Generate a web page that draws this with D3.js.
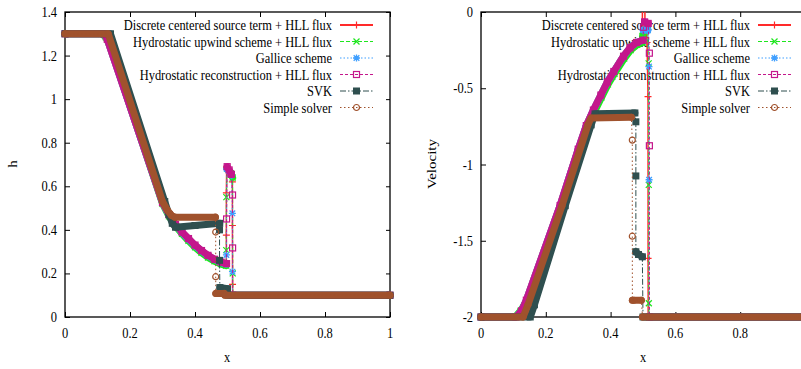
<!DOCTYPE html>
<html><head><meta charset="utf-8">
<script src="https://cdn.jsdelivr.net/npm/d3@7"></script>
<style>
body{margin:0;background:#fff}
svg{display:block}
text{font-family:"Liberation Serif","Times New Roman",serif;font-size:15px;fill:#000}
</style>
</head><body>
<svg id="c" width="801" height="369"></svg>
<script>
// ---------- data ----------
const seriesNames = [
  "Discrete centered source term + HLL flux",
  "Hydrostatic upwind scheme + HLL flux",
  "Gallice scheme",
  "Hydrostatic reconstruction + HLL flux",
  "SVK",
  "Simple solver"
];
const xTicks = [0, 0.2, 0.4, 0.6, 0.8, 1];
const hTicks = [0, 0.2, 0.4, 0.6, 0.8, 1, 1.2, 1.4];
const vTicks = [0, -0.5, -1, -1.5, -2];

// left panel : h(x)
const hRedX = [0, 0.12, 0.13, 0.30, 0.32, 0.34, 0.36, 0.38, 0.40, 0.42, 0.44, 0.46, 0.48, 0.4965, 0.4965, 0.4965, 0.4975, 0.505, 0.5125, 0.5150, 0.5152, 0.5155, 0.516, 1];
const hRedY = [1.3, 1.3, 1.275, 0.525, 0.468, 0.424, 0.388, 0.357, 0.328, 0.303, 0.281, 0.264, 0.25, 0.243, 0.376, 0.57, 0.685, 0.672, 0.652, 0.62, 0.42, 0.15, 0.1, 0.1];
const hGreenX = [0, 0.112, 0.125, 0.14, 0.30, 0.32, 0.34, 0.36, 0.38, 0.40, 0.42, 0.44, 0.46, 0.48, 0.496, 0.4962, 0.4965, 0.499, 0.51, 0.5158, 0.516, 0.5165, 1];
const hGreenY = [1.3, 1.3, 1.285, 1.24, 0.52, 0.462, 0.418, 0.382, 0.35, 0.32, 0.295, 0.273, 0.256, 0.243, 0.236, 0.307, 0.55, 0.68, 0.66, 0.64, 0.2, 0.1, 0.1];
const hBlueX = [0, 0.12, 0.13, 0.30, 0.32, 0.34, 0.36, 0.38, 0.40, 0.42, 0.44, 0.46, 0.48, 0.4965, 0.4966, 0.498, 0.505, 0.5125, 0.515, 0.5153, 0.5158, 1];
const hBlueY = [1.3, 1.3, 1.275, 0.525, 0.468, 0.424, 0.388, 0.357, 0.328, 0.303, 0.281, 0.264, 0.25, 0.243, 0.285, 0.68, 0.67, 0.652, 0.476, 0.208, 0.1, 0.1];
const hMagX = [0, 0.12, 0.13, 0.30, 0.32, 0.34, 0.36, 0.38, 0.40, 0.42, 0.44, 0.46, 0.48, 0.497, 0.4972, 0.499, 0.505, 0.512, 0.5155, 0.5157, 0.516, 1];
const hMagY = [1.3, 1.3, 1.275, 0.525, 0.47, 0.425, 0.39, 0.36, 0.33, 0.305, 0.283, 0.265, 0.252, 0.245, 0.45, 0.69, 0.675, 0.655, 0.56, 0.317, 0.1, 0.1];
const hSvkX = [0, 0.14, 0.307, 0.32, 0.33, 0.34, 0.40, 0.476, 0.4755, 0.4755, 0.4765, 0.50, 0.503, 1];
const hSvkY = [1.3, 1.3, 0.53, 0.47, 0.43, 0.412, 0.42, 0.43, 0.40, 0.26, 0.135, 0.13, 0.1, 0.1];
const hSimpleX = [0, 0.133, 0.30, 0.315, 0.328, 0.338, 0.463, 0.4637, 0.4637, 0.464, 0.49, 0.492, 1];
const hSimpleY = [1.3, 1.3, 0.53, 0.49, 0.466, 0.458, 0.458, 0.39, 0.185, 0.108, 0.108, 0.1, 0.1];

// right panel : velocity(x)
const vRedX = [0, 0.108, 0.125, 0.14, 0.244, 0.30, 0.325, 0.347, 0.37, 0.39, 0.41, 0.44, 0.46, 0.48, 0.498, 0.4985, 0.5055, 0.506, 0.5095, 0.5125, 0.5155, 0.5157, 0.516, 1];
const vRedY = [-2, -2, -1.96, -1.89, -1.27, -0.9, -0.745, -0.643, -0.545, -0.46, -0.39, -0.29, -0.235, -0.2, -0.19, 0.4, 0.4, -0.08, -0.1, -0.2, -0.555, -1.615, -2, -2];
const vGreenX = [0, 0.105, 0.122, 0.14, 0.246, 0.302, 0.328, 0.35, 0.372, 0.392, 0.412, 0.442, 0.462, 0.482, 0.498, 0.4985, 0.503, 0.514, 0.5175, 0.5178, 0.518, 0.519, 1];
const vGreenY = [-2, -2, -1.96, -1.9, -1.27, -0.905, -0.75, -0.655, -0.56, -0.475, -0.405, -0.305, -0.25, -0.215, -0.2, -0.16, -0.12, -0.115, -0.337, -1.134, -1.91, -2, -2];
const vBlueX = [0, 0.108, 0.125, 0.14, 0.244, 0.30, 0.325, 0.347, 0.37, 0.39, 0.41, 0.44, 0.46, 0.48, 0.5, 0.5005, 0.5065, 0.515, 0.5185, 0.5188, 0.519, 1];
const vBlueY = [-2, -2, -1.96, -1.89, -1.27, -0.9, -0.745, -0.643, -0.545, -0.46, -0.39, -0.29, -0.235, -0.2, -0.185, -0.118, -0.118, -0.12, -0.358, -1.10, -2, -2];
const vMagX = [0, 0.108, 0.125, 0.14, 0.244, 0.30, 0.325, 0.347, 0.37, 0.39, 0.41, 0.44, 0.46, 0.48, 0.5, 0.5015, 0.505, 0.516, 0.5196, 0.5197, 0.52, 1];
const vMagY = [-2, -2, -1.96, -1.89, -1.27, -0.9, -0.745, -0.643, -0.545, -0.46, -0.39, -0.29, -0.235, -0.2, -0.185, -0.1, -0.065, -0.075, -0.27, -0.877, -2, -2];
const vSvkX = [0, 0.152, 0.165, 0.26, 0.34, 0.352, 0.475, 0.478, 0.478, 0.478, 0.486, 0.498, 0.5, 1];
const vSvkY = [-2, -2, -1.92, -1.27, -0.74, -0.668, -0.662, -0.72, -1.075, -1.572, -1.59, -1.605, -2, -2];
const vSimpleX = [0, 0.13, 0.145, 0.25, 0.33, 0.34, 0.464, 0.467, 0.467, 0.4672, 0.472, 0.495, 0.4985, 1];
const vSimpleY = [-2, -2, -1.92, -1.27, -0.74, -0.695, -0.69, -0.84, -1.47, -1.89, -1.89, -1.89, -2, -2];

// ---------- styles ----------
const colors = ["#ff2a2a", "#1ee61e", "#3f9fff", "#c4178c", "#2f4f4f", "#a0522d"];
const dashes = [null, "4,2", "1.5,2", "3,2", "6,2,1.5,2", "1.5,2.5"];
const markers = ["plus", "cross", "star", "sqOpen", "sqFill", "circOpen"];
const lineWidths = [1.5, 1, 1, 1, 1, 1];

const svg = d3.select("#c");
const W = 801;
const SX = 0.83;

function label(g, x, y, s, anchor, rot) {
  const t = g.append("g").attr("transform", `translate(${x},${y}) scale(${SX},1)` + (rot ? " rotate(-90)" : ""));
  t.append("text").attr("text-anchor", anchor).text(s);
}

function marker(g, type, x, y, color) {
  const m = g.append("g").attr("transform", `translate(${x},${y})`);
  if (type === "plus") m.append("path").attr("d", "M-3.5,0H3.5M0,-3.5V3.5").attr("stroke", color).attr("stroke-width", 1.2);
  else if (type === "cross") m.append("path").attr("d", "M-3,-3L3,3M-3,3L3,-3").attr("stroke", color).attr("stroke-width", 1.2);
  else if (type === "star") m.append("path").attr("d", "M-3.5,0H3.5M0,-3.5V3.5M-2.8,-2.8L2.8,2.8M-2.8,2.8L2.8,-2.8").attr("stroke", color).attr("stroke-width", 1.3);
  else if (type === "sqOpen") m.append("rect").attr("x", -3).attr("y", -3).attr("width", 6).attr("height", 6).attr("fill", "none").attr("stroke", color).attr("stroke-width", 1.2);
  else if (type === "sqFill") m.append("rect").attr("x", -3.5).attr("y", -3.5).attr("width", 7).attr("height", 7).attr("fill", color);
  else if (type === "circOpen") m.append("circle").attr("r", 3).attr("fill", "none").attr("stroke", color).attr("stroke-width", 1.2);
}

function panel(opt) {
  const {left, right, top, bottom, yDomain, yTicks, xs, ys, legendRight, yLabel, yLabelX, xLabelX, tickLabelRight, id} = opt;
  const x = d3.scaleLinear().domain([0, 1]).range([left, right]);
  const y = d3.scaleLinear().domain(yDomain).range([bottom, top]);
  const g = svg.append("g");

  const cid = "clip" + id;
  svg.append("clipPath").attr("id", cid).append("rect")
    .attr("x", left - 6).attr("y", top).attr("width", right - left + 12).attr("height", bottom - top + 8);

  const fmt = d => String(d);
  const axB = g.append("g").attr("transform", `translate(0,${bottom})`).call(d3.axisBottom(x).tickValues(xTicks).tickSize(-5).tickFormat(""));
  const axT = g.append("g").attr("transform", `translate(0,${top})`).call(d3.axisTop(x).tickValues(xTicks).tickSize(-5).tickFormat(""));
  const axL = g.append("g").attr("transform", `translate(${left},0)`).call(d3.axisLeft(y).tickValues(yTicks).tickSize(-5).tickFormat(""));
  const axR = g.append("g").attr("transform", `translate(${right},0)`).call(d3.axisRight(y).tickValues(yTicks).tickSize(-4).tickFormat(""));
  [axB, axT, axL, axR].forEach(a => { a.select(".domain").remove(); a.selectAll("line").attr("stroke", "#000").attr("stroke-width", 1); });

  g.append("rect").attr("x", left).attr("y", top).attr("width", right - left).attr("height", bottom - top)
    .attr("fill", "none").attr("stroke", "#000").attr("stroke-width", 1.3);

  xTicks.forEach(t => { if (x(t) < W - 4) label(g, x(t), 338, fmt(t), "middle"); });
  yTicks.forEach(t => label(g, tickLabelRight, y(t) + 5, fmt(t), "end"));
  label(g, xLabelX, 362, "x", "middle");
  label(g, yLabelX, (top + bottom) / 2 - 0.5, yLabel, "middle", true);

  const rowY = i => 25 + i * 16.5;
  seriesNames.forEach((n, i) => label(g, legendRight, rowY(i) + 5, n, "end"));

  const lineGen = d3.line().x(d => x(d[0])).y(d => y(d[1]));
  const dataG = g.append("g").attr("clip-path", `url(#${cid})`);
  seriesNames.forEach((n, i) => {
    const pts = xs[i].map((v, k) => [v, ys[i][k]]);
    const sg = dataG.append("g");
    const runs = [];
    let cur = [pts[0]];
    for (let k = 1; k < pts.length; k++) {
      if (Math.abs(pts[k][0] - pts[k - 1][0]) > 0.004) { cur.push(pts[k]); }
      else { if (cur.length > 1) runs.push(cur); cur = [pts[k]]; }
    }
    if (cur.length > 1) runs.push(cur);
    runs.forEach(r => sg.append("path").attr("d", lineGen(r)).attr("fill", "none")
      .attr("stroke", colors[i]).attr("stroke-width", 7).attr("stroke-linecap", "round").attr("stroke-linejoin", "round"));
    sg.append("path").attr("d", lineGen(pts)).attr("fill", "none").attr("stroke", colors[i])
      .attr("stroke-width", lineWidths[i]).attr("stroke-dasharray", dashes[i]);
    pts.forEach(p => { if (p[1] <= yDomain[1]) marker(sg, markers[i], x(p[0]), y(p[1]), colors[i]); });
    const ly = rowY(i);
    g.append("line").attr("x1", legendRight + 8).attr("x2", legendRight + 41).attr("y1", ly).attr("y2", ly)
      .attr("stroke", colors[i]).attr("stroke-width", i === 0 ? 2 : 1).attr("stroke-dasharray", dashes[i]);
    marker(g, markers[i], legendRight + 24.5, ly, colors[i]);
  });
}

panel({id: "L", left: 65, right: 390, top: 12, bottom: 317, yDomain: [0, 1.4], yTicks: hTicks,
  xs: [hRedX, hGreenX, hBlueX, hMagX, hSvkX, hSimpleX], ys: [hRedY, hGreenY, hBlueY, hMagY, hSvkY, hSimpleY],
  legendRight: 332, yLabel: "h", yLabelX: 16.5, xLabelX: 227, tickLabelRight: 57});
panel({id: "R", left: 481, right: 805, top: 12, bottom: 317, yDomain: [-2, 0], yTicks: vTicks,
  xs: [vRedX, vGreenX, vBlueX, vMagX, vSvkX, vSimpleX], ys: [vRedY, vGreenY, vBlueY, vMagY, vSvkY, vSimpleY],
  legendRight: 750, yLabel: "Velocity", yLabelX: 436, xLabelX: 643, tickLabelRight: 473});
</script>
</body></html>
